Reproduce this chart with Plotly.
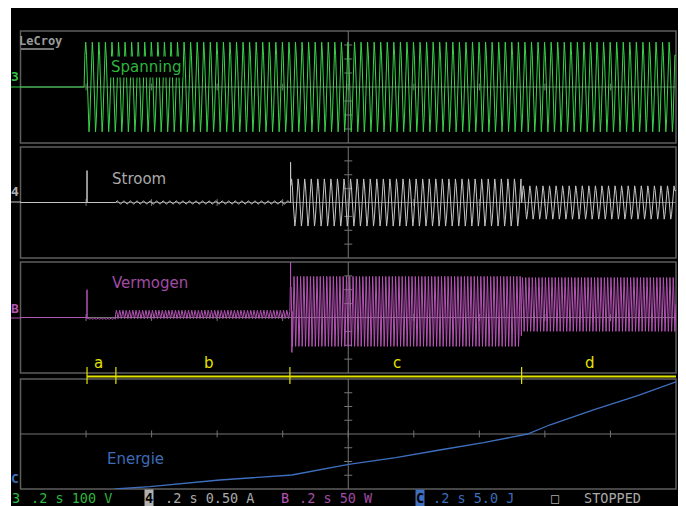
import numpy as np
import plotly.graph_objects as go

# page body has an 8 px margin; the figure covers the rest of the 686x506 window
OFF = 8
W, H = 686 - OFF, 506 - OFF

t_end = 2.0                      # 10 div x 0.2 s
x_divs = [0.2, 0.4, 0.6, 0.8, 1.0, 1.2, 1.4, 1.6, 1.8]

mains_period = 0.02              # 50 Hz
power_period = 0.01              # 100 Hz
cycle_shape = [0.0, 0.71, 1.0, 0.71, 0.0, -0.71, -1.0, -0.71]   # one mains period, normalised
power_shape = [0.5, 0.85, 1.0, 0.85, 0.5, 0.15, 0.0, 0.15]     # one power period, 0..1

# Spanning (V)
volt_seg_start = [0.0, 0.194]
volt_seg_end = [0.194, 2.0]
volt_seg_amp = [0.0, 320.0]

# Stroom (A)
curr_seg_start = [0.0, 0.29, 0.822, 1.529]
curr_seg_end = [0.29, 0.822, 1.529, 2.0]
curr_seg_amp = [0.0, 0.06, 0.85, 0.60]
curr_spike_t = [0.203, 0.824]
curr_spike_val = [1.15, 1.45]

# Vermogen (W)
pow_seg_start = [0.0, 0.203, 0.29, 0.822, 1.529]
pow_seg_end = [0.203, 0.29, 0.822, 1.529, 2.0]
pow_seg_low = [0.0, -7.0, -4.0, -104.0, -50.0]
pow_seg_high = [0.0, -2.0, 26.0, 148.0, 144.0]
pow_spike_t = [0.203, 0.824, 0.828]
pow_spike_val = [100.0, 215.0, -126.0]

# Energie (J)
energy_t = [0.288, 0.395, 0.608, 0.828, 1.001, 1.145, 1.279, 1.413, 1.547, 1.614, 1.748, 1.883, 2.0]
energy_j = [0.0, 0.84, 3.27, 5.09, 8.98, 11.38, 14.18, 16.84, 20.0, 23.27, 28.73, 33.93, 39.0]

phase_bounds = [0.203, 0.291, 0.822, 1.529]
phase_labels = ["a", "b", "c", "d"]
phase_label_t = [0.239, 0.575, 1.148, 1.739]

status_items = [
    ("3", 11, "#2fbf40", None),
    (".2 s 100 V", 30, "#2fb53e", None),
    ("4", 144, "#000000", "#b0b0b0"),
    (".2 s 0.50 A", 164, "#a9a9a9", None),
    ("B", 280, "#b553b5", None),
    (".2 s 50 W", 298, "#a24ca4", None),
    ("C", 415, "#000000", "#3e6fbf"),
    (".2 s 5.0 J", 432, "#3c6cb8", None),
    ("\u25a1", 550, "#a9a9a9", None),
    ("STOPPED", 583, "#a9a9a9", None),
]

# ---------------- helpers (window pixels -> paper) ----------------
def px(x):
    return (x - OFF) / W

def py(y):
    return 1 - (y - OFF) / H


def build_wave(starts, ends, lows, highs, shape, period):
    ts, vs = [], []
    step = period / len(shape)
    shape = np.asarray(shape, dtype=float)
    for s, e, lo, hi in zip(starts, ends, lows, highs):
        if lo == 0 and hi == 0:
            ts += [s]
            vs += [0.0]
            continue
        n = int(round((e - s) / step))
        t = s + step * np.arange(n)
        v = lo + (hi - lo) * np.resize(shape, n)
        ts += list(t)
        vs += list(v)
    ts.append(ends[-1])
    vs.append(vs[-1])
    return np.array(ts), np.array(vs)


def add_spikes(t, v, st, sv):
    t = list(t)
    v = list(v)
    for ts_, val in zip(st, sv):
        idx = int(np.searchsorted(t, ts_))
        base = v[max(idx - 1, 0)]
        t[idx:idx] = [ts_, ts_, ts_]
        v[idx:idx] = [base, val, base]
    return t, v


tv, vv = build_wave(volt_seg_start, volt_seg_end,
                    [-a for a in volt_seg_amp], volt_seg_amp,
                    [(c + 1) / 2 for c in cycle_shape], mains_period)
ti, vi = build_wave(curr_seg_start, curr_seg_end,
                    [-a for a in curr_seg_amp], curr_seg_amp,
                    [(c + 1) / 2 for c in cycle_shape], mains_period)
ti, vi = add_spikes(ti, vi, curr_spike_t, curr_spike_val)
tp, vp = build_wave(pow_seg_start, pow_seg_end, pow_seg_low, pow_seg_high,
                    power_shape, power_period)
tp, vp = add_spikes(tp, vp, pow_spike_t, pow_spike_val)

# ---------------- figure ----------------
panels = [  # (yaxis name, top px, bottom px, range, per-div)
    ("y", 31, 143, [-400, 400], 100),
    ("y2", 147, 258, [-2, 2], 0.5),
    ("y3", 262, 373, [-200, 200], 50),
    ("y4", 379, 489, [0, 40], 5),
]

fig = go.Figure()
fig.add_trace(go.Scatter(x=tv, y=vv, mode="lines", xaxis="x", yaxis="y",
                         line=dict(color="#3ad44b", width=1), hoverinfo="skip"))
fig.add_trace(go.Scatter(x=ti, y=vi, mode="lines", xaxis="x", yaxis="y2",
                         line=dict(color="#c6c6c6", width=1), hoverinfo="skip"))
fig.add_trace(go.Scatter(x=tp, y=vp, mode="lines", xaxis="x", yaxis="y3",
                         line=dict(color="#b553b5", width=1), hoverinfo="skip"))
fig.add_trace(go.Scatter(x=energy_t, y=energy_j, mode="lines", xaxis="x", yaxis="y4",
                         line=dict(color="#3e6fbf", width=1.3), hoverinfo="skip"))

shapes = []
# black screen background
shapes.append(dict(type="rect", xref="paper", yref="paper", x0=px(11), x1=px(680),
                   y0=0, y1=py(6), fillcolor="black", line=dict(width=0), layer="below"))

frame_col = "#5e5e5e"
grid_col = "#747474"
dt_tick = 4 / 328.0
for name, top, bot, rng, per in panels:
    ydom = name + " domain"
    shapes.append(dict(type="rect", xref="x domain", yref=ydom, x0=0, x1=1, y0=0, y1=1,
                       line=dict(color=frame_col, width=1.5), layer="below"))
    mid = (rng[0] + rng[1]) / 2
    shapes.append(dict(type="line", xref="x domain", yref=name, x0=0, x1=1, y0=mid, y1=mid,
                       line=dict(color=grid_col, width=1), layer="below"))
    shapes.append(dict(type="line", xref="x", yref=ydom, x0=1.0, x1=1.0, y0=0, y1=1,
                       line=dict(color=grid_col, width=1), layer="below"))
    for k in [-3, -2, -1, 1, 2, 3]:
        yv = mid + k * per
        shapes.append(dict(type="line", xref="x", yref=name, x0=1.0 - dt_tick, x1=1.0 + dt_tick,
                           y0=yv, y1=yv, line=dict(color=grid_col, width=1), layer="below"))
    for xv in x_divs:
        shapes.append(dict(type="line", xref="x", yref=name, x0=xv, x1=xv,
                           y0=mid - 0.25 * per, y1=mid + 0.25 * per,
                           line=dict(color=grid_col, width=1), layer="below"))

# yellow phase marker line
yel = "#e3e300"
shapes.append(dict(type="line", xref="x", yref="paper", x0=phase_bounds[0], x1=t_end,
                   y0=py(376.5), y1=py(376.5), line=dict(color=yel, width=2)))
for b in phase_bounds:
    shapes.append(dict(type="line", xref="x", yref="paper", x0=b, x1=b,
                       y0=py(367), y1=py(384), line=dict(color=yel, width=1.2)))

# baseline stubs left of the grid and LeCroy underline
shapes.append(dict(type="line", xref="paper", yref="paper", x0=px(11), x1=px(21),
                   y0=py(87), y1=py(87), line=dict(color="#3ad44b", width=1)))
shapes.append(dict(type="line", xref="paper", yref="paper", x0=px(11), x1=px(21),
                   y0=py(202), y1=py(202), line=dict(color="#c6c6c6", width=1)))
shapes.append(dict(type="line", xref="paper", yref="paper", x0=px(11), x1=px(21),
                   y0=py(318), y1=py(318), line=dict(color="#b553b5", width=1)))
shapes.append(dict(type="line", xref="paper", yref="paper", x0=px(21), x1=px(54),
                   y0=py(49), y1=py(49), line=dict(color="#9a9a9a", width=1.5)))

annotations = []
lab_font = "DejaVu Sans"
mono = "DejaVu Sans Mono"


def label(text, x, y, size, color, family=lab_font, xanchor="center", **kw):
    d = dict(text=text, x=px(x), y=py(y), xref="paper", yref="paper",
             xanchor=xanchor, yanchor="middle", showarrow=False,
             font=dict(family=family, size=size, color=color))
    d.update(kw)
    annotations.append(d)


label("Spanning", 146, 67, 15, "#2fb53e", bgcolor="black")
label("Stroom", 139, 179, 15, "#a9a9a9")
label("Vermogen", 150, 283, 15, "#a24ca4")
label("Energie", 135, 459, 15, "#3c6cb8")
label("<b>LeCroy</b>", 40.5, 41, 12, "#9a9a9a", family=mono)

for lab, tx in zip(phase_labels, phase_label_t):
    annotations.append(dict(text=lab, x=tx, y=py(363), xref="x", yref="paper",
                            xanchor="center", yanchor="middle", showarrow=False,
                            font=dict(family=lab_font, size=15, color=yel)))

# channel markers on the left edge
for txt, yy, col in [("3", 76, "#2fbf40"), ("4", 191, "#b0b0b0"),
                     ("B", 308, "#b553b5"), ("C", 478, "#3e6fbf")]:
    label("<b>" + txt + "</b>", 15, yy, 13, col, family=mono)

for txt, xx, col, bg in status_items:
    if bg:
        label("<b>" + txt + "</b>", xx, 498, 13.5, col, family=mono, xanchor="left",
              borderpad=0, bgcolor=bg)
    else:
        label(txt, xx, 498, 13.5, col, family=mono, xanchor="left", borderpad=0)

axis_off = dict(showgrid=False, zeroline=False, showticklabels=False, showline=False,
                ticks="", fixedrange=True)
layout = dict(
    width=W, height=H, margin=dict(l=0, r=0, t=0, b=0),
    paper_bgcolor="white", plot_bgcolor="black", showlegend=False,
    xaxis=dict(domain=[px(20.5), px(676)], range=[0, t_end], anchor="y", **axis_off),
    shapes=shapes, annotations=annotations,
)
for name, top, bot, rng, per in panels:
    key = "yaxis" if name == "y" else "yaxis" + name[1:]
    layout[key] = dict(domain=[py(bot), py(top)], range=rng, anchor="x", **axis_off)

fig.update_layout(**layout)
fig.write_html("out.html")
